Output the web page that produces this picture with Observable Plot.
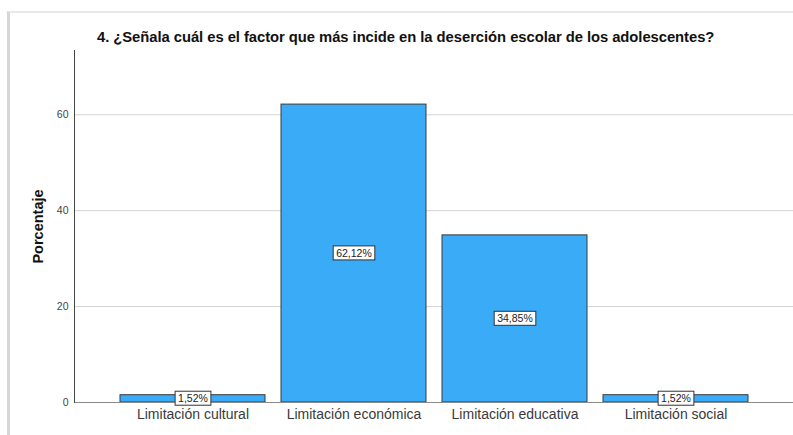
<!DOCTYPE html>
<html>
<head>
<meta charset="utf-8">
<script src="https://cdn.jsdelivr.net/npm/d3@7"></script>
<script src="https://cdn.jsdelivr.net/npm/@observablehq/plot@0.6"></script>
<style>
  html, body { margin: 0; padding: 0; background: #fff; }
  #wrap { position: relative; width: 793px; height: 435px; overflow: hidden; font-family: "Liberation Sans", Arial, sans-serif; }
  #frame { position: absolute; left: 7px; top: 11px; width: 820px; height: 460px; border-left: 3px solid #d6d6d6; border-top: 2px solid #e8e8e8; box-sizing: border-box; }
  #title { position: absolute; left: 97px; top: 29px; font-size: 14.8px; font-weight: bold; color: #111; white-space: nowrap; letter-spacing: -0.05px; }
  #chart { position: absolute; left: 0; top: 0; }
</style>
</head>
<body>
<div id="wrap">
  <div id="frame"></div>
  <div id="title">4. ¿Señala cuál es el factor que más incide en la deserción escolar de los adolescentes?</div>
  <div id="chart"></div>
</div>
<script>
const categories = ["Limitación cultural", "Limitación económica", "Limitación educativa", "Limitación social"];
const values = [1.52, 62.12, 34.85, 1.52];
const valueLabels = ["1,52%", "62,12%", "34,85%", "1,52%"];
const yTicks = [0, 20, 40, 60];

const data = categories.map((c, i) => ({cat: c, value: values[i], label: valueLabels[i]}));

const plot = Plot.plot({
  width: 793,
  height: 435,
  marginLeft: 74,
  marginRight: 0,
  marginTop: 50,
  marginBottom: 33,
  style: {fontFamily: "'Liberation Sans', Arial, sans-serif", background: "transparent", overflow: "visible"},
  x: {type: "band", domain: categories, paddingInner: 0.1, paddingOuter: 0.28, label: null},
  y: {domain: [0, 73.4], label: null},
  marks: [
    Plot.ruleY(yTicks.filter(d => d > 0), {stroke: "#d4d4d4", strokeWidth: 1}),
    Plot.barY(data, {x: "cat", y: "value", fill: "#3aabf7", stroke: "#3a3a3a", strokeWidth: 1}),
    Plot.ruleY([0], {stroke: "#8a8a8a", strokeWidth: 1.2}),
    Plot.frame({anchor: "left", stroke: "#444", strokeWidth: 1}),
    Plot.axisY({ticks: yTicks, tickSize: 0, tickPadding: 6, fontSize: 10.5, color: "#444", label: null}),
    Plot.axisX({tickSize: 0, tickPadding: 6.5, fontSize: 14, color: "#3a3a3a", label: null}),
    Plot.text(["Porcentaje"], {frameAnchor: "left", textAnchor: "middle", dx: -36, rotate: -90, fontSize: 14.5, fontWeight: "bold", fill: "#111"}),
    Plot.text(data, {x: "cat", y: d => d.value / 2, text: "label", fontSize: 10.5, fill: "#222", className: "vlabel"})
  ]
});

document.getElementById("chart").appendChild(plot);

// draw boxes around the value labels based on rendered text bounds
const svg = d3.select(plot);
svg.selectAll("g.vlabel text").each(function() {
  const bb = this.getBBox();
  const parent = this.parentNode;
  const tr = this.getAttribute("transform");
  const rect = document.createElementNS("http://www.w3.org/2000/svg", "rect");
  rect.setAttribute("x", bb.x - 3);
  rect.setAttribute("y", bb.y - 1);
  rect.setAttribute("width", bb.width + 6);
  rect.setAttribute("height", bb.height + 2);
  rect.setAttribute("fill", "#fff");
  rect.setAttribute("stroke", "#333");
  rect.setAttribute("stroke-width", "1");
  if (tr) rect.setAttribute("transform", tr);
  parent.insertBefore(rect, this);
});
</script>
</body>
</html>
